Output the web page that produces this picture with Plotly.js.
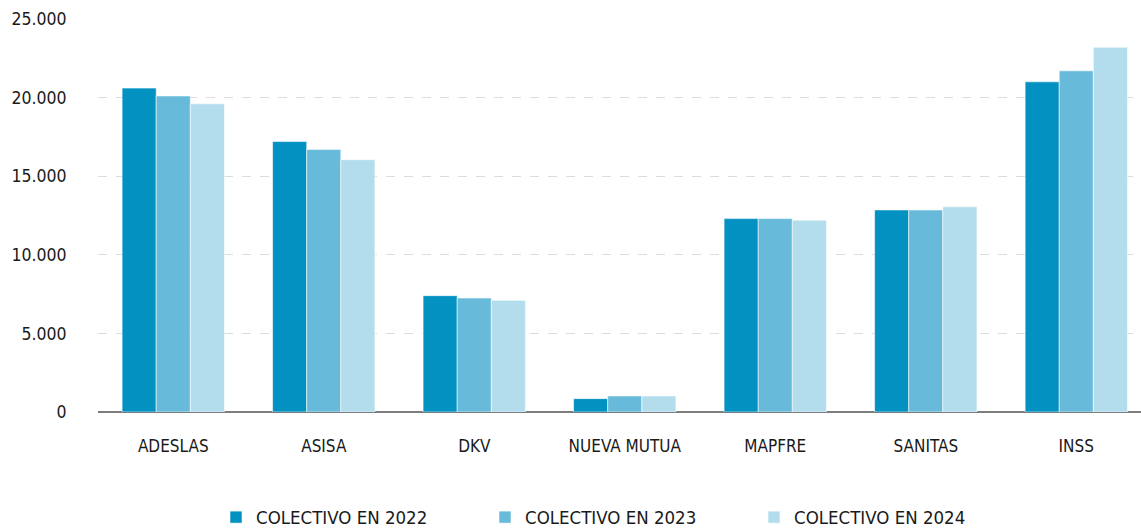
<!DOCTYPE html>
<html>
<head>
<meta charset="utf-8">
<script src="https://cdn.plot.ly/plotly-3.0.1.min.js"></script>
<style>html,body{margin:0;padding:0;background:#fff;}#chart{width:1141px;height:530px;}</style>
</head>
<body>
<div id="chart"></div>
<script>
const categories = ["ADESLAS", "ASISA", "DKV", "NUEVA MUTUA", "MAPFRE", "SANITAS", "INSS"];
const seriesNames = ["COLECTIVO EN 2022", "COLECTIVO EN 2023", "COLECTIVO EN 2024"];
const values2022 = [20600, 17200, 7400, 850, 12300, 12850, 21000];
const values2023 = [20100, 16700, 7250, 1020, 12300, 12850, 21700];
const values2024 = [19600, 16050, 7100, 1020, 12200, 13050, 23200];
const colors = ["#0291C0", "#67BAD9", "#B3DDEC"];
const yTicks = [0, 5000, 10000, 15000, 20000, 25000];

const FONT = '"Liberation Sans Narrow", "DejaVu Sans Condensed", "Roboto", sans-serif';
const allValues = [values2022, values2023, values2024];
const traces = allValues.map((vals, i) => ({
  type: 'bar',
  name: seriesNames[i],
  x: categories,
  y: vals,
  marker: {color: colors[i], line: {color: 'rgba(255,255,255,0.55)', width: 1}},
  hoverinfo: 'x+y+name'
}));

const layout = {
  width: 1141, height: 530,
  margin: {l: 98, r: 0, t: 18, b: 118, autoexpand: false},
  paper_bgcolor: '#fff', plot_bgcolor: '#fff',
  separators: ',.',
  barmode: 'group',
  bargap: 0.32,
  bargroupgap: 0,
  font: {family: FONT, color: '#1a1a1a', size: 17},
  xaxis: {
    type: 'category',
    range: [-0.5, 6.43],
    showgrid: false,
    showline: false,
    zeroline: false,
    automargin: false,
    ticks: 'outside', ticklen: 19, tickcolor: 'rgba(0,0,0,0)',
    tickfont: {family: FONT, size: 17, color: '#1a1a1a'},
    fixedrange: true
  },
  yaxis: {
    range: [0, 25060],
    tickvals: yTicks,
    tickformat: ',d',
    showgrid: true,
    gridcolor: '#dcdcdc',
    griddash: 'dash',
    gridwidth: 1,
    zeroline: true,
    zerolinecolor: '#7d7d7d',
    zerolinewidth: 2.5,
    showline: false,
    automargin: false,
    ticks: 'outside', ticklen: 27, tickcolor: 'rgba(0,0,0,0)',
    tickfont: {family: FONT, size: 17.5, color: '#1a1a1a'},
    fixedrange: true
  },
  showlegend: true,
  legend: {
    orientation: 'h',
    x: 0.5, xanchor: 'center',
    y: -0.268, yanchor: 'middle',
    font: {family: FONT, size: 18.5, color: '#1a1a1a'},
    entrywidth: 224, entrywidthmode: 'pixels',
    itemclick: false, itemdoubleclick: false,
    traceorder: 'normal'
  }
};

Plotly.newPlot('chart', traces, layout, {displayModeBar: false, staticPlot: true});
</script>
</body>
</html>
